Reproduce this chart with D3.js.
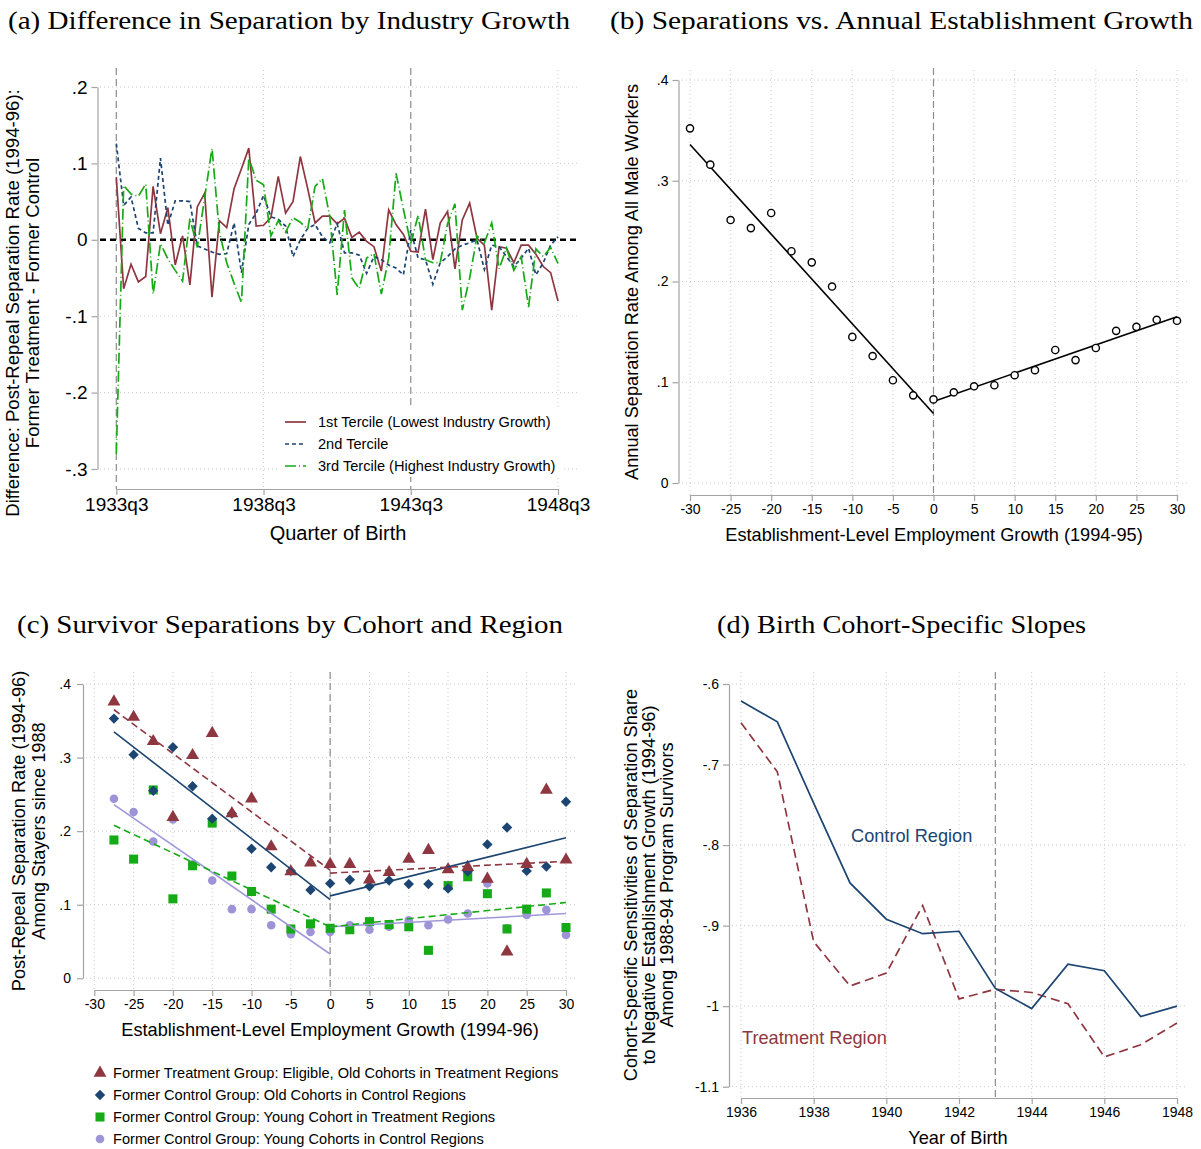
<!DOCTYPE html>
<html>
<head>
  <meta charset="utf-8">
  <title>Separations figure</title>
  <script src="https://cdn.jsdelivr.net/npm/d3@7"></script>
  <style>
    body { margin: 0; background: #fff; }
    svg text { font-family: "Liberation Sans", Arial, sans-serif; fill: #000; }
    svg text.title { font-family: "Liberation Serif", "Times New Roman", serif; }
  </style>
</head>
<body>
<svg id="chart" width="1201" height="1149"></svg>
<script>
// ---- panel (a): difference by industry growth tercile, 1933q3..1948q3 ----
var aTickLabels = ['1933q3', '1938q3', '1943q3', '1948q3'];
var aTickIdx = [0, 20, 40, 60];
var aYTicks = [0.2, 0.1, 0, -0.1, -0.2, -0.3];
var tercile1 = [0.082, -0.064, -0.032, -0.055, -0.048, 0.07, 0.008, 0.042, -0.033, 0.005,
  -0.059, 0.043, 0.061, -0.075, 0.025, 0.016, 0.067, 0.093, 0.12, 0.018,
  0.019, 0.029, 0.083, 0.035, 0.05, 0.109, 0.067, 0.022, 0.031, 0.031,
  0.021, 0.028, 0.003, 0.01, -0.002, -0.009, -0.041, 0.039, 0.02, 0.007,
  -0.015, -0.016, 0.04, -0.026, 0.022, 0.037, -0.038, 0.026, 0.048, 0.002,
  -0.007, -0.092, -0.009, -0.011, -0.03, -0.007, -0.007, -0.019, -0.035, -0.043, -0.08];
var tercile2 = [0.126, 0.045, 0.056, 0.015, 0.009, 0.009, 0.107, 0.019, 0.051, 0.051,
  0.05, -0.008, -0.012, -0.016, -0.019, -0.018, 0.022, -0.043, 0.02, 0.035,
  0.058, 0.03, 0.027, 0.018, -0.022, 0.0, 0.015, 0.02, 0.004, -0.004,
  0.021, -0.017, -0.017, -0.02, -0.044, -0.022, -0.026, -0.033, -0.037, -0.046,
  0.013, -0.024, -0.026, -0.058, -0.03, -0.022, -0.012, -0.007, -0.004, 0.0,
  -0.039, -0.007, -0.009, -0.022, -0.035, -0.024, -0.011, -0.046, -0.03, -0.007, 0.004];
var tercile3 = [-0.28, 0.071, 0.06, 0.057, 0.073, -0.071, -0.005, -0.025, -0.04, -0.054,
  0.028, -0.01, 0.055, 0.12, 0.01, -0.03, -0.057, -0.082, 0.107, 0.078,
  0.072, 0.005, 0.025, 0.01, 0.029, 0.023, 0.014, 0.07, 0.08, 0.03,
  -0.072, 0.039, -0.05, -0.064, -0.024, -0.018, -0.071, -0.024, 0.087, 0.04,
  -0.005, 0.032, -0.026, -0.03, -0.03, 0.021, 0.047, -0.092, -0.05, 0.005,
  -0.004, 0.022, -0.038, -0.011, -0.04, -0.022, -0.088, -0.012, -0.022, -0.01, -0.031];
var aLegend = ['1st Tercile (Lowest Industry Growth)', '2nd Tercile', '3rd Tercile (Highest Industry Growth)'];

// ---- panel (b): separation rate vs establishment growth ----
var bGrowth = [-30, -27.5, -25, -22.5, -20, -17.5, -15, -12.5, -10, -7.5, -5, -2.5, 0,
  2.5, 5, 7.5, 10, 12.5, 15, 17.5, 20, 22.5, 25, 27.5, 30];
var bRate = [0.352, 0.316, 0.261, 0.253, 0.268, 0.23, 0.219, 0.195, 0.145, 0.126, 0.102, 0.087, 0.083,
  0.09, 0.096, 0.097, 0.107, 0.112, 0.132, 0.122, 0.134, 0.151, 0.155, 0.162, 0.161];
var bFitLeft = [[-30, 0.336], [0, 0.069]];
var bFitRight = [[0, 0.081], [30, 0.165]];

// ---- panel (c): survivor separations by cohort and region ----
var cGrowth = [-27.5, -25, -22.5, -20, -17.5, -15, -12.5, -10, -7.5, -5, -2.5, 0,
  2.5, 5, 7.5, 10, 12.5, 15, 17.5, 20, 22.5, 25, 27.5, 30];
var cTreatOld = [0.376, 0.355, 0.322, 0.219, 0.303, 0.333, 0.224, 0.244, 0.179, 0.145, 0.157, 0.155,
  0.155, 0.134, 0.144, 0.162, 0.174, 0.148, 0.151, 0.135, 0.036, 0.155, 0.256, 0.161];
var cControlOld = [0.353, 0.304, 0.255, 0.314, 0.261, 0.217, 0.224, 0.176, 0.151, 0.146, 0.12, 0.129,
  0.134, 0.125, 0.133, 0.128, 0.128, 0.122, 0.145, 0.182, 0.205, 0.146, 0.152, 0.24];
var cYoungTreat = [0.188, 0.162, 0.256, 0.108, 0.153, 0.211, 0.139, 0.118, 0.094, 0.067, 0.074, 0.068,
  0.066, 0.077, 0.073, 0.07, 0.038, 0.126, 0.138, 0.115, 0.067, 0.094, 0.116, 0.069];
var cYoungControl = [0.244, 0.226, 0.186, 0.216, 0.155, 0.133, 0.094, 0.094, 0.072, 0.06, 0.063, 0.063,
  0.072, 0.066, 0.07, 0.079, 0.072, 0.08, 0.088, 0.129, 0.068, 0.086, 0.093, 0.059];
var cFitTreatOld = [[[-27.5, 0.365], [0, 0.147]], [[0, 0.143], [30, 0.159]]];
var cFitControlOld = [[[-27.5, 0.335], [0, 0.107]], [[0, 0.112], [30, 0.191]]];
var cFitYoungTreat = [[[-27.5, 0.208], [0, 0.07]], [[0, 0.07], [30, 0.103]]];
var cFitYoungControl = [[[-27.5, 0.236], [0, 0.033]], [[0, 0.07], [30, 0.088]]];
var cLegend = ['Former Treatment Group: Eligible, Old Cohorts in Treatment Regions',
  'Former Control Group: Old Cohorts in Control Regions',
  'Former Control Group: Young Cohort in Treatment Regions',
  'Former Control Group: Young Cohorts in Control Regions'];

// ---- panel (d): cohort-specific slopes ----
var dYears = [1936, 1937, 1938, 1939, 1940, 1941, 1942, 1943, 1944, 1945, 1946, 1947, 1948];
var dControl = [-0.621, -0.647, -0.748, -0.847, -0.892, -0.91, -0.907, -0.978, -1.003, -0.948, -0.956, -1.013, -1.0];
var dTreatment = [-0.648, -0.709, -0.92, -0.975, -0.959, -0.875, -0.991, -0.979, -0.983, -0.997, -1.063, -1.048, -1.021];

var RED = '#8f3741', NAVY = '#1d4571', GREEN = '#16aa16', LAV = '#9d94d8';
var GRID = '#cccccc', AXIS = '#a3a3a3', REF = '#8c8c8c';
var LABEL = 18.2;

var svg = d3.select('#chart');

function fmt(v) {
  if (v === 0) return '0';
  var s = String(+v.toFixed(2));
  return s.replace(/^(-?)0\./, '$1.');
}

function styleAxis(g, size) {
  g.select('.domain').attr('stroke', AXIS).attr('stroke-width', 1.2);
  g.selectAll('.tick line').attr('stroke', AXIS).attr('stroke-width', 1.2);
  g.selectAll('.tick text').attr('font-size', size)
    .attr('font-family', '"Liberation Sans", Arial, sans-serif').attr('fill', '#111');
}

function hGrid(yScale, ticks, x1, x2) {
  svg.append('g').selectAll('line').data(ticks).enter().append('line')
    .attr('x1', x1).attr('x2', x2)
    .attr('y1', function(d) { return yScale(d); })
    .attr('y2', function(d) { return yScale(d); })
    .attr('stroke', GRID).attr('stroke-dasharray', '1,3');
}
function vGrid(xScale, ticks, y1, y2) {
  svg.append('g').selectAll('line').data(ticks).enter().append('line')
    .attr('y1', y1).attr('y2', y2)
    .attr('x1', function(d) { return xScale(d); })
    .attr('x2', function(d) { return xScale(d); })
    .attr('stroke', GRID).attr('stroke-dasharray', '1,3');
}
function vRef(x, y1, y2) {
  svg.append('line').attr('x1', x).attr('x2', x).attr('y1', y1).attr('y2', y2)
    .attr('stroke', REF).attr('stroke-width', 1.2).attr('stroke-dasharray', '7,4');
}
function title(txt, x, y, len) {
  svg.append('text').attr('class', 'title').attr('x', x).attr('y', y)
    .attr('font-size', 26).attr('textLength', len).attr('lengthAdjust', 'spacingAndGlyphs').text(txt);
}
function yTitle(lines, xs, cy, size) {
  lines.forEach(function(t, i) {
    svg.append('text').attr('transform', 'translate(' + xs[i] + ',' + cy + ') rotate(-90)')
      .attr('text-anchor', 'middle').attr('font-size', size).text(t);
  });
}
function xTitle(t, cx, y, size) {
  svg.append('text').attr('x', cx).attr('y', y).attr('text-anchor', 'middle')
    .attr('font-size', size).text(t);
}

// =================== (a) ===================
var xa = d3.scaleLinear().domain([0, 60]).range([116.3, 558]);
var ya = d3.scaleLinear().domain([-0.3, 0.2]).range([469, 87]);

hGrid(ya, aYTicks.filter(function(d) { return d !== 0; }), 100, 577);
vGrid(xa, [20, 60], 70, 489);
vRef(xa(0), 68, 489);
vRef(xa(40), 68, 489);

svg.append('line').attr('x1', 100).attr('x2', 577).attr('y1', ya(0)).attr('y2', ya(0))
  .attr('stroke', '#000').attr('stroke-width', 2.6).attr('stroke-dasharray', '6,4');

var lineA = d3.line().x(function(d, i) { return xa(i); }).y(function(d) { return ya(d); });
var aSeries = [
  { data: tercile1, color: RED, dash: null },
  { data: tercile2, color: NAVY, dash: '4,3' },
  { data: tercile3, color: GREEN, dash: '11,3,1,3' }
];
aSeries.forEach(function(s) {
  svg.append('path').datum(s.data).attr('d', lineA).attr('fill', 'none')
    .attr('stroke', s.color).attr('stroke-width', 1.7)
    .attr('stroke-dasharray', s.dash);
});

svg.append('g').attr('transform', 'translate(97.5,0)')
  .call(d3.axisLeft(ya).tickValues(aYTicks).tickFormat(fmt).tickSize(6).tickSizeOuter(0).tickPadding(4))
  .call(function(g) { styleAxis(g, 19); });
svg.append('g').attr('transform', 'translate(0,489)')
  .call(d3.axisBottom(xa).tickValues(aTickIdx)
    .tickFormat(function(d, i) { return aTickLabels[i]; }).tickSize(6).tickSizeOuter(0).tickPadding(3))
  .call(function(g) { styleAxis(g, 19); });

// legend (a)
svg.append('rect').attr('x', 280).attr('y', 409).attr('width', 282).attr('height', 68).attr('fill', '#fff');
aLegend.forEach(function(t, i) {
  var y = 422 + i * 22;
  svg.append('line').attr('x1', 285).attr('x2', 306).attr('y1', y).attr('y2', y)
    .attr('stroke', aSeries[i].color).attr('stroke-width', 1.7).attr('stroke-dasharray', aSeries[i].dash);
  svg.append('text').attr('x', 318).attr('y', y + 5).attr('font-size', 14.6).text(t);
});

title('(a) Difference in Separation by Industry Growth', 8, 29, 562);
yTitle(['Difference: Post-Repeal Separation Rate (1994-96):', 'Former Treatment - Former Control'], [19, 39], 303, 18.6);
xTitle('Quarter of Birth', 338, 540, 20);

// =================== (b) ===================
var xb = d3.scaleLinear().domain([-30, 30]).range([690, 1177]);
var yb = d3.scaleLinear().domain([0, 0.4]).range([483, 80]);
var bXTicks = d3.range(-30, 31, 5);
var bYTicks = [0, 0.1, 0.2, 0.3, 0.4];

hGrid(yb, bYTicks, 682, 1188);
vGrid(xb, bXTicks, 70, 495);
vRef(xb(0), 68, 495);

var lineXY = function(xs, ys) {
  return d3.line().x(function(d) { return xs(d[0]); }).y(function(d) { return ys(d[1]); });
};
[bFitLeft, bFitRight].forEach(function(f) {
  svg.append('path').datum(f).attr('d', lineXY(xb, yb)).attr('fill', 'none')
    .attr('stroke', '#000').attr('stroke-width', 1.6);
});
svg.append('g').selectAll('circle').data(bGrowth).enter().append('circle')
  .attr('cx', function(d) { return xb(d); })
  .attr('cy', function(d, i) { return yb(bRate[i]); })
  .attr('r', 3.6).attr('fill', '#fff').attr('stroke', '#000').attr('stroke-width', 1.4);

svg.append('g').attr('transform', 'translate(678.5,0)')
  .call(d3.axisLeft(yb).tickValues(bYTicks).tickFormat(fmt).tickSize(6).tickSizeOuter(0).tickPadding(4))
  .call(function(g) { styleAxis(g, 14); });
svg.append('g').attr('transform', 'translate(0,495)')
  .call(d3.axisBottom(xb).tickValues(bXTicks).tickFormat(fmt).tickSize(6).tickSizeOuter(0).tickPadding(3))
  .call(function(g) { styleAxis(g, 14); });

title('(b) Separations vs. Annual Establishment Growth', 610, 29, 583);
yTitle(['Annual Separation Rate Among All Male Workers'], [638], 282, LABEL);
xTitle('Establishment-Level Employment Growth (1994-95)', 934, 541, LABEL);

// =================== (c) ===================
var xc = d3.scaleLinear().domain([-30, 30]).range([94.3, 566]);
var yc = d3.scaleLinear().domain([0, 0.4]).range([978.3, 684]);
var cXTicks = d3.range(-30, 31, 5);
var cYTicks = [0, 0.1, 0.2, 0.3, 0.4];

hGrid(yc, cYTicks, 86, 576);
vGrid(xc, cXTicks, 672, 990);
vRef(xc(0), 672, 990);

var triangle = d3.symbol().type(d3.symbolTriangle).size(72);
var diamond = d3.symbol().type(d3.symbolSquare).size(54);
var square = d3.symbol().type(d3.symbolSquare).size(82);
var dot = d3.symbol().type(d3.symbolCircle).size(58);

var cSeries = [
  { data: cYoungControl, color: LAV, sym: dot, rot: 0, fit: cFitYoungControl, dash: null, lc: '#9e97da' },
  { data: cYoungTreat, color: GREEN, sym: square, rot: 0, fit: cFitYoungTreat, dash: '7,4', lc: GREEN },
  { data: cControlOld, color: NAVY, sym: diamond, rot: 45, fit: cFitControlOld, dash: null, lc: NAVY },
  { data: cTreatOld, color: RED, sym: triangle, rot: 0, fit: cFitTreatOld, dash: '7,4', lc: RED }
];
cSeries.forEach(function(s) {
  svg.append('g').selectAll('path').data(s.data).enter().append('path')
    .attr('d', s.sym)
    .attr('transform', function(d, i) {
      return 'translate(' + xc(cGrowth[i]) + ',' + yc(d) + ') rotate(' + s.rot + ')';
    })
    .attr('fill', s.color);
});
cSeries.forEach(function(s) {
  s.fit.forEach(function(f) {
    svg.append('path').datum(f).attr('d', lineXY(xc, yc)).attr('fill', 'none')
      .attr('stroke', s.lc).attr('stroke-width', 1.6).attr('stroke-dasharray', s.dash);
  });
});

svg.append('g').attr('transform', 'translate(83,0)')
  .call(d3.axisLeft(yc).tickValues(cYTicks).tickFormat(fmt).tickSize(6).tickSizeOuter(0).tickPadding(6))
  .call(function(g) { styleAxis(g, 14); });
svg.append('g').attr('transform', 'translate(0,990)')
  .call(d3.axisBottom(xc).tickValues(cXTicks).tickFormat(fmt).tickSize(6).tickSizeOuter(0).tickPadding(3))
  .call(function(g) { styleAxis(g, 14); });

// legend (c), listed in the order of the reference
var cLegendSeries = [cSeries[3], cSeries[2], cSeries[1], cSeries[0]];
cLegend.forEach(function(t, i) {
  var y = 1073 + i * 22;
  var s = cLegendSeries[i];
  svg.append('path').attr('d', s.sym).attr('fill', s.color)
    .attr('transform', 'translate(100,' + y + ') rotate(' + s.rot + ')');
  svg.append('text').attr('x', 113).attr('y', y + 5).attr('font-size', 14.6).text(t);
});

title('(c) Survivor Separations by Cohort and Region', 17, 633, 546);
yTitle(['Post-Repeal Separation Rate (1994-96)', 'Among Stayers since 1988'], [25, 45], 831, LABEL);
xTitle('Establishment-Level Employment Growth (1994-96)', 330, 1036, LABEL);

// =================== (d) ===================
var xd = d3.scaleLinear().domain([1936, 1948]).range([741, 1177]);
var yd = d3.scaleLinear().domain([-1.1, -0.6]).range([1086.7, 684]);
var dXTicks = d3.range(1936, 1949, 2);
var dYTicks = [-0.6, -0.7, -0.8, -0.9, -1, -1.1];

hGrid(yd, dYTicks, 732, 1186);
vGrid(xd, dXTicks, 672, 1098);
vRef(xd(1943), 672, 1098);

var lineD = d3.line().x(function(d, i) { return xd(dYears[i]); }).y(function(d) { return yd(d); });
svg.append('path').datum(dTreatment).attr('d', lineD).attr('fill', 'none')
  .attr('stroke', RED).attr('stroke-width', 1.7).attr('stroke-dasharray', '9,5');
svg.append('path').datum(dControl).attr('d', lineD).attr('fill', 'none')
  .attr('stroke', NAVY).attr('stroke-width', 1.7);

svg.append('g').attr('transform', 'translate(729,0)')
  .call(d3.axisLeft(yd).tickValues(dYTicks).tickFormat(fmt).tickSize(6).tickSizeOuter(0).tickPadding(4))
  .call(function(g) { styleAxis(g, 14); });
svg.append('g').attr('transform', 'translate(0,1098)')
  .call(d3.axisBottom(xd).tickValues(dXTicks).tickFormat(d3.format('d')).tickSize(6).tickSizeOuter(0).tickPadding(3))
  .call(function(g) { styleAxis(g, 14); });

svg.append('text').attr('x', 851).attr('y', 842).attr('font-size', LABEL)
  .style('fill', NAVY).text('Control Region');
svg.append('text').attr('x', 742).attr('y', 1044).attr('font-size', LABEL)
  .style('fill', RED).text('Treatment Region');

title('(d) Birth Cohort-Specific Slopes', 717, 633, 369);
yTitle(['Cohort-Specific Sensitivities of Separation Share',
  'to Negative Establishment Growth (1994-96)',
  'Among 1988-94 Program Survivors'], [637, 655, 673], 885, LABEL);
xTitle('Year of Birth', 958, 1144, LABEL);
</script>
</body>
</html>
